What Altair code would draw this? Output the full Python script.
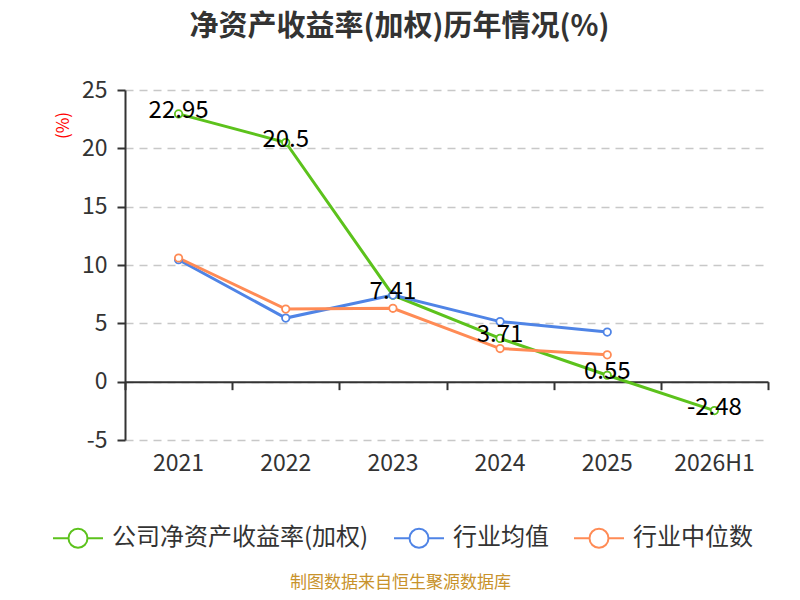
import altair as alt
import pandas as pd

years = ["2021", "2022", "2023", "2024", "2025", "2026H1"]
company = [22.95, 20.5, 7.41, 3.71, 0.55, -2.48]
ind_avg = [10.45, 5.45, 7.42, 5.15, 4.25, None]
ind_med = [10.6, 6.22, 6.29, 2.84, 2.3, None]
series = ["公司净资产收益率(加权)", "行业均值", "行业中位数"]
colors = ["#5cc21c", "#4f84e6", "#ff8b55"]

rows = []
for s, vals in zip(series, [company, ind_avg, ind_med]):
    for yr, v in zip(years, vals):
        if v is not None:
            rows.append({"year": yr, "series": s, "value": v, "label": str(v)})
df = pd.DataFrame(rows)

FONT = "Noto Sans CJK SC"
DARK = "#333333"

xscale = alt.Scale(type="band", domain=years, paddingInner=0, paddingOuter=0)

x_labels = alt.X(
    "year:N", scale=xscale, sort=years,
    axis=alt.Axis(
        orient="bottom",
        title="制图数据来自恒生聚源数据库", titleColor="#c8922b", titleFontSize=17,
        titleFontWeight="normal", titleX=275, titleY=142, titleAlign="center",
        titleBaseline="middle", labelFontSize=23, labelColor=DARK, labelAngle=0,
        domain=False, ticks=False, labelPadding=12, grid=False,
    ),
)
x_zero = alt.X(
    "year:N", scale=xscale, sort=years,
    axis=alt.Axis(
        orient="bottom",
        title=None, labels=False, domain=True, ticks=True, tickBand="extent",
        tickSize=8, offset=-58.33, grid=False, domainColor=DARK, domainWidth=2,
        tickColor=DARK, tickWidth=2,
    ),
)
x_none = alt.X("year:N", scale=xscale, sort=years, axis=None)

y = alt.Y(
    "value:Q", scale=alt.Scale(domain=[-5, 25], nice=False, zero=False),
    axis=alt.Axis(
        title="(%)", titleColor="red", titleFontSize=17, titleFontWeight="normal",
        titleAngle=270, titleX=-62, titleY=35, titleAlign="center",
        titleBaseline="middle", values=[-5, 0, 5, 10, 15, 20, 25],
        labelFontSize=23, labelColor=DARK, labelExpr="datum.value + ''",
        tickSize=8, tickColor=DARK, tickWidth=2, domainColor=DARK, domainWidth=2,
        gridColor="#c8c8c8", gridDash=[8, 6], gridWidth=1.3, labelPadding=10,
    ),
)

color = alt.Color(
    "series:N", scale=alt.Scale(domain=series, range=colors),
    legend=alt.Legend(
        orient="none", legendX=-73, legendY=422, direction="horizontal", title=None,
        labelFontSize=24, labelColor=DARK, labelFont=FONT, labelLimit=0,
        symbolType="M-1,0H-0.38M0.38,0H1M0.38,0A0.38,0.38,0,1,1,-0.38,0A0.38,0.38,0,1,1,0.38,0",
        symbolSize=2500, symbolStrokeWidth=2, symbolFillColor="white",
        columnPadding=21, labelOffset=8,
    ),
)

base = alt.Chart(df)
lines = base.mark_line(strokeWidth=3).encode(x=x_labels, y=y, color=color)
points = base.mark_point(filled=False, fill="white", fillOpacity=1, size=55,
                         strokeWidth=1.8, opacity=1).encode(x=x_zero, y=y, color=color)
labels = base.transform_filter(alt.datum.series == series[0]).mark_text(
    fontSize=24, color="black", dy=-3, baseline="middle", font=FONT
).encode(x=x_none, y=y, text="label:N")

chart = alt.layer(lines, points, labels).resolve_axis(x="independent").properties(
    width=643, height=350,
    autosize=alt.AutoSizeParams(type="none"),
    padding={"left": 117, "top": 82, "right": 24, "bottom": 152},
    title=alt.TitleParams(
        "净资产收益率(加权)历年情况(%)", fontSize=29, fontWeight="bold", color=DARK,
        anchor="middle", frame="group", dx=-47, offset=37, font=FONT,
    ),
).configure(font=FONT).configure_view(stroke=None)

chart.save("out.html", embed_options={"renderer": "svg", "actions": False})
